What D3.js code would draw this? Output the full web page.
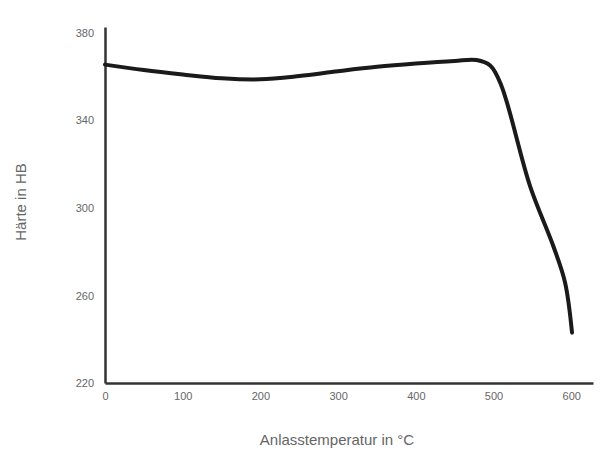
<!DOCTYPE html>
<html><head><meta charset="utf-8">
<script src="https://cdn.jsdelivr.net/npm/d3@7"></script>
<style>body{margin:0;background:#fff}svg{display:block}</style>
</head><body><svg id="c" width="612" height="452"></svg>
<script>
const temps    = [0, 50, 100, 150, 200, 250, 300, 350, 400, 450, 478, 496, 510, 547, 577, 592, 601];
const hardness = [365.5, 363, 361, 359.3, 358.8, 360.3, 362.5, 364.5, 366, 367.2, 367.6, 365, 356, 310, 282.5, 266, 243];
const xTicks = [0, 100, 200, 300, 400, 500, 600];
const yTicks = [220, 260, 300, 340, 380];
const xTitle = "Anlasstemperatur in °C";
const yTitle = "Härte in HB";

const svg = d3.select("#c");
const x = d3.scaleLinear().domain([0, 628]).range([105, 593]);
const y = d3.scaleLinear().domain([220, 382.7]).range([383, 27]);
const font = "Liberation Sans, Arial, sans-serif";

const xa = svg.append("g").attr("transform", `translate(0,${y(220)})`)
  .call(d3.axisBottom(x).tickValues(xTicks).tickSize(0).tickPadding(9));
const ya = svg.append("g").attr("transform", `translate(${x(0)},0)`)
  .call(d3.axisLeft(y).tickValues(yTicks).tickSize(0).tickPadding(11));
[xa, ya].forEach(a => {
  a.select(".domain").attr("stroke", "#333").attr("stroke-width", 2.5);
  a.selectAll("text").attr("fill", "#666").attr("font-size", 11).attr("font-family", font);
});

svg.append("path")
  .datum(temps.map((t, i) => [t, hardness[i]]))
  .attr("fill", "none").attr("stroke", "#1a1a1a").attr("stroke-width", 4)
  .attr("stroke-linecap", "round").attr("stroke-linejoin", "round")
  .attr("d", d3.line().x(d => x(d[0])).y(d => y(d[1])).curve(d3.curveCatmullRom.alpha(0.5)));

svg.append("text").attr("x", 337).attr("y", 445).attr("text-anchor", "middle")
  .attr("fill", "#666").attr("font-size", 15).attr("font-family", font).text(xTitle);
svg.append("text").attr("transform", "translate(26,202) rotate(-90)").attr("text-anchor", "middle")
  .attr("fill", "#666").attr("font-size", 15).attr("font-family", font).text(yTitle);
</script></body></html>
